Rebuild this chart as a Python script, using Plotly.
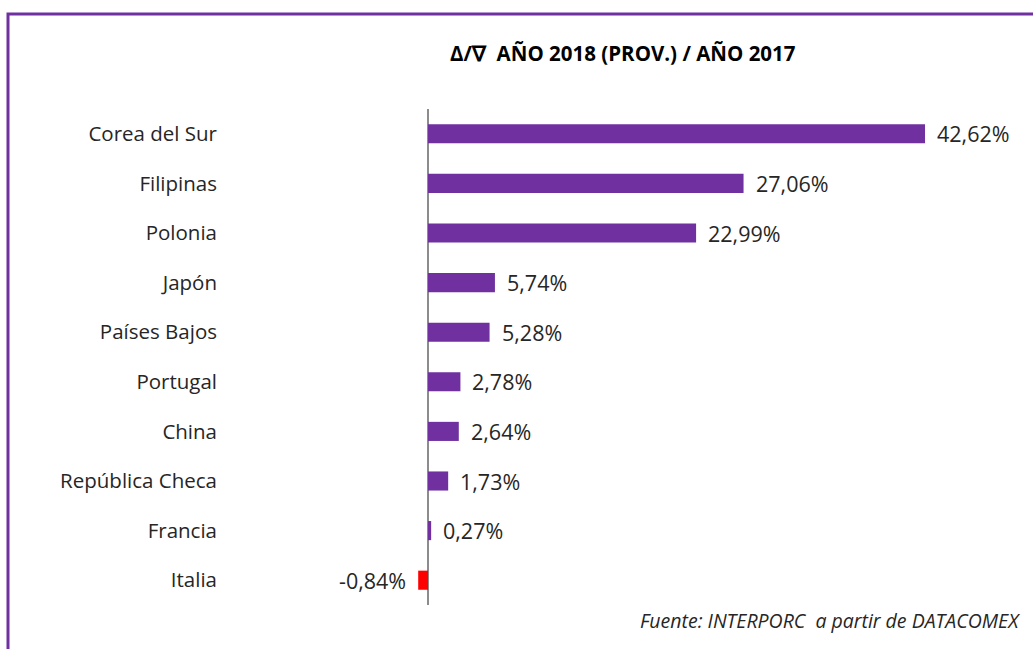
import plotly.graph_objects as go

countries = ["Corea del Sur", "Filipinas", "Polonia", "Japón", "Países Bajos",
             "Portugal", "China", "República Checa", "Francia", "Italia"]
values = [42.62, 27.06, 22.99, 5.74, 5.28, 2.78, 2.64, 1.73, 0.27, -0.84]
labels = ["42,62%", "27,06%", "22,99%", "5,74%", "5,28%",
          "2,78%", "2,64%", "1,73%", "0,27%", "-0,84%"]

PURPLE = "#7030A0"
RED = "#FF0000"
TXT = "#262626"
FONT = "Open Sans"
colors = [RED if v < 0 else PURPLE for v in values]

W, H = 1033, 649
L, R, T, B = 218, 33, 109, 44
pw, ph = W - L - R, H - T - B
px_per_unit = (925 - 428) / 42.62
xmin = -(428 - L) / px_per_unit
xmax = (W - R - 428) / px_per_unit

def px2paper_x(px):
    return (px - L) / pw

def py2paper_y(py):
    return (H - B - py) / ph

fig = go.Figure()
fig.add_trace(go.Bar(
    y=countries, x=values, orientation="h",
    marker=dict(color=colors, line=dict(width=0)),
    width=0.385, hoverinfo="skip",
))

annotations = []
for c, v, lab in zip(countries, values, labels):
    annotations.append(dict(
        x=v, y=c, xref="x", yref="y", text=lab, showarrow=False,
        xanchor="left" if v >= 0 else "right",
        xshift=10 if v >= 0 else -10,
        font=dict(family=FONT, size=21.5, color=TXT),
    ))

annotations.append(dict(
    x=px2paper_x(623), y=py2paper_y(53), xref="paper", yref="paper",
    text="<b>Δ/∇  AÑO 2018 (PROV.) / AÑO 2017</b>", showarrow=False,
    xanchor="center", yanchor="middle",
    font=dict(family=FONT, size=20.5, color="#000000"),
))
annotations.append(dict(
    x=px2paper_x(1022), y=py2paper_y(620), xref="paper", yref="paper",
    text="<i>Fuente: INTERPORC  a partir de DATACOMEX</i>", showarrow=False,
    xanchor="right", yanchor="middle",
    font=dict(family=FONT, size=19.5, color=TXT),
))

shapes = [dict(
    type="path", xref="paper", yref="paper",
    path=f"M {px2paper_x(8)},{py2paper_y(660)} L {px2paper_x(8)},{py2paper_y(14)} L {px2paper_x(1040)},{py2paper_y(14)}",
    line=dict(color=PURPLE, width=3),
)]

fig.update_layout(
    width=W, height=H,
    margin=dict(l=L, r=R, t=T, b=B),
    paper_bgcolor="white", plot_bgcolor="white",
    showlegend=False,
    annotations=annotations,
    shapes=shapes,
    xaxis=dict(range=[xmin, xmax], showgrid=False, showticklabels=False,
               zeroline=True, zerolinecolor="#8C8C8C", zerolinewidth=2,
               showline=False, ticks=""),
    yaxis=dict(autorange="reversed", showgrid=False, showline=False, ticks="",
               tickfont=dict(family=FONT, size=20.5, color=TXT)),
    bargap=0.6,
)

fig.write_html("out.html", config={"displayModeBar": False},
               post_script="document.body.style.margin='0';document.body.style.overflow='hidden';")
